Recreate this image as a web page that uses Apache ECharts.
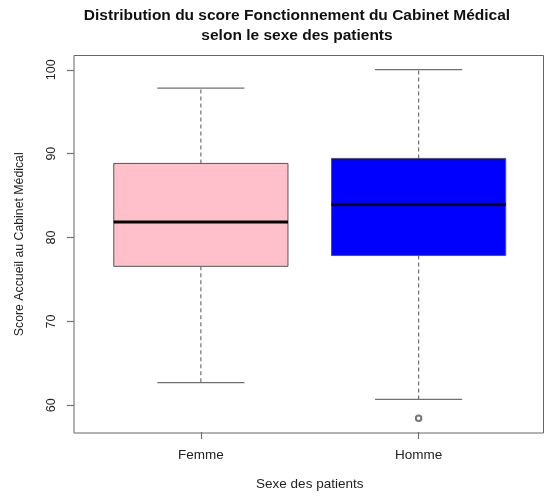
<!DOCTYPE html>
<html>
<head>
<meta charset="utf-8">
<script src="https://cdn.jsdelivr.net/npm/echarts@6/dist/echarts.min.js"></script>
<style>
html,body{margin:0;padding:0;background:#fff;}
#chart{width:545px;height:496px;}
</style>
</head>
<body>
<div id="chart"></div>
<script>
// ---- data ----
const categories = ['Femme', 'Homme'];
const whiskerLow  = [62.6, 60.6];
const q1          = [76.5, 77.8];
const median      = [81.8, 83.9];
const q3          = [88.8, 89.4];
const whiskerHigh = [97.8, 100.0];
const outlierCategory = ['Homme'];
const outlierValue    = [58.35];
const yTicks      = [60, 70, 80, 90, 100];
const yMin = 56.7, yMax = 101.7;

// ---- styles ----
const boxColors = ['#FFC0CB', '#0000FF'];
const FONT = 'Liberation Sans, Arial, Helvetica, sans-serif';
const lineGray = '#707070';

const boxData = categories.map((c, i) => [i, whiskerLow[i], q1[i], median[i], q3[i], whiskerHigh[i]]);
const outlierData = outlierCategory.map((c, i) => [categories.indexOf(c), outlierValue[i]]);

function renderBox(params, api) {
  const idx = api.value(0);
  const lo = api.value(1), b1 = api.value(2), md = api.value(3), b3 = api.value(4), hi = api.value(5);
  const band = api.size([1, 0])[0];
  const halfW = band * 0.4;
  const capHalf = band * 0.2;
  const pLo = api.coord([idx, lo]);
  const p1 = api.coord([idx, b1]);
  const pMd = api.coord([idx, md]);
  const p3 = api.coord([idx, b3]);
  const pHi = api.coord([idx, hi]);
  const cx = pMd[0];
  const dash = { stroke: lineGray, lineWidth: 1.2, lineDash: [4, 3] };
  const solid = { stroke: lineGray, lineWidth: 1.2 };
  return {
    type: 'group',
    children: [
      { type: 'line', shape: { x1: cx, y1: p3[1], x2: cx, y2: pHi[1] }, style: dash },
      { type: 'line', shape: { x1: cx, y1: p1[1], x2: cx, y2: pLo[1] }, style: dash },
      { type: 'line', shape: { x1: cx - capHalf, y1: pHi[1], x2: cx + capHalf, y2: pHi[1] }, style: solid },
      { type: 'line', shape: { x1: cx - capHalf, y1: pLo[1], x2: cx + capHalf, y2: pLo[1] }, style: solid },
      { type: 'rect', shape: { x: cx - halfW, y: p3[1], width: 2 * halfW, height: p1[1] - p3[1] },
        style: { fill: boxColors[idx], stroke: '#555', lineWidth: 1 } },
      { type: 'line', shape: { x1: cx - halfW, y1: pMd[1], x2: cx + halfW, y2: pMd[1] },
        style: { stroke: '#000', lineWidth: 3 } }
    ]
  };
}

const chart = echarts.init(document.getElementById('chart'), null, { renderer: 'canvas' });
chart.setOption({
  animation: false,
  backgroundColor: '#fff',
  textStyle: { fontFamily: FONT },
  title: {
    text: 'Distribution du score Fonctionnement du Cabinet Médical\nselon le sexe des patients',
    left: 297, top: 6, padding: 0, textAlign: 'center',
    textStyle: { fontFamily: FONT, fontWeight: 'bold', fontSize: 15.5, lineHeight: 20, color: '#111' }
  },
  grid: [
    { left: 74, right: 1.5, top: 55.5, bottom: 63, show: true, borderColor: '#666', borderWidth: 1, backgroundColor: 'transparent' },
    { left: 92, right: 17.5, top: 55.5, bottom: 63 }
  ],
  xAxis: [
    { type: 'value', gridIndex: 0, show: false, min: 0, max: 1 },
    {
      type: 'category', gridIndex: 1, data: categories,
      axisLine: { show: false },
      axisTick: { show: true, alignWithLabel: true, length: 7, lineStyle: { color: lineGray, width: 1.2 } },
      axisLabel: { margin: 16, fontSize: 13.5, color: '#222', fontFamily: FONT },
      name: 'Sexe des patients', nameLocation: 'middle', nameGap: 45,
      nameTextStyle: { fontSize: 13.5, color: '#222', fontFamily: FONT }
    }
  ],
  yAxis: [
    {
      type: 'value', gridIndex: 0, min: yMin, max: yMax,
      axisLine: { show: false },
      splitLine: { show: false },
      axisTick: { show: true, length: 7, customValues: yTicks, lineStyle: { color: lineGray, width: 1.2 } },
      axisLabel: { customValues: yTicks, rotate: 90, margin: 16, fontSize: 12.5, color: '#222', fontFamily: FONT },
      name: 'Score Accueil au Cabinet Médical', nameLocation: 'middle', nameGap: 48,
      nameTextStyle: { fontSize: 12.3, color: '#222', fontFamily: FONT }
    },
    { type: 'value', gridIndex: 1, min: yMin, max: yMax, show: false, splitLine: { show: false } }
  ],
  series: [
    {
      type: 'custom', xAxisIndex: 1, yAxisIndex: 1,
      data: boxData, encode: { x: 0, y: [1, 2, 3, 4, 5] },
      renderItem: renderBox
    },
    {
      type: 'scatter', xAxisIndex: 1, yAxisIndex: 1,
      data: outlierData, symbol: 'emptyCircle', symbolSize: 5.5,
      itemStyle: { color: '#555', borderColor: '#555', borderWidth: 1.2 }
    }
  ]
});
</script>
</body>
</html>
